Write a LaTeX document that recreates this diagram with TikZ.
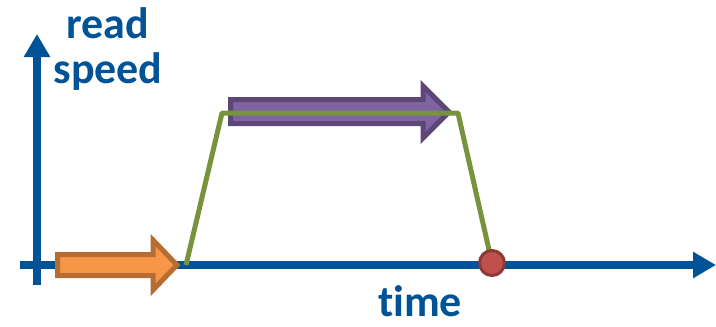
\documentclass[tikz,border=0pt]{standalone}
\usepackage{fontspec}
\setmainfont{Carlito}[Ligatures=NoCommon]
\usetikzlibrary{arrows.meta}
\definecolor{axisblue}{RGB}{0,83,150}
\definecolor{speedgreen}{RGB}{119,147,60}
\definecolor{orangefill}{RGB}{247,150,70}
\definecolor{orangeline}{RGB}{182,109,49}
\definecolor{purplefill}{RGB}{128,100,162}
\definecolor{purpleline}{RGB}{92,71,118}
\definecolor{redfill}{RGB}{192,80,77}
\definecolor{redline}{RGB}{140,56,54}
\tikzset{
  axis/.style={line width=7.5pt, draw=axisblue, -{Triangle[length=23pt,width=25pt]}},
  axislabel/.style={text=axisblue, font=\bfseries\fontsize{44}{45}\selectfont, align=center, inner sep=0pt},
  blockarrow/.style={line width=5pt, line join=miter},
}
\begin{document}
\begin{tikzpicture}[x=1pt, y=-1pt, line join=round]
\useasboundingbox (0,0) rectangle (716,327);
% axes
\coordinate (o) at (37,265);
\coordinate (xstart) at (20,265);
\coordinate (xend) at (716,265);
\coordinate (ystart) at (37,285);
\coordinate (yend) at (37,34);
\draw[axis] (xstart) -- (xend);
\draw[axis] (ystart) -- (yend);
\node[axislabel, anchor=base] (ylabel) at (108,83) {read\\speed};
\node[axislabel, anchor=base] (xlabel) at (420,316) {time};
% block arrows
\draw[blockarrow, fill=orangefill, draw=orangeline]
  (57.5,254.5) -- (153,254.5) -- (153,240) -- (177,265) -- (153,290) -- (153,275.5) -- (57.5,275.5) -- cycle;
\draw[blockarrow, fill=purplefill, draw=purpleline]
  (230.5,99.5) -- (423,99.5) -- (423,86) -- (449,112) -- (423,138) -- (423,123.5) -- (230.5,123.5) -- cycle;
% read speed
\coordinate (rise) at (186,265);
\coordinate (topleft) at (222,113);
\coordinate (topright) at (458,113);
\coordinate (stop) at (492,263);
\draw[speedgreen, line width=5pt] (rise) -- (topleft) -- (topright) -- (stop);
\node[circle, fill=redfill, draw=redline, line width=3pt, minimum size=25pt, inner sep=0pt] (done) at (stop) {};
\end{tikzpicture}
\end{document}
